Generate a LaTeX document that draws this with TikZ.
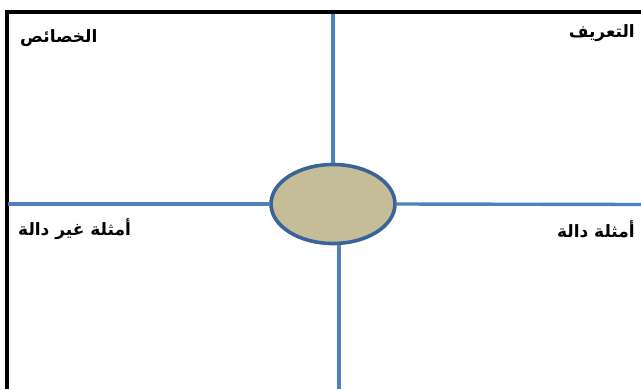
\documentclass[tikz,border=0pt]{standalone}
\usepackage{fontspec}
\usetikzlibrary{shapes.geometric}
\newfontfamily\arabicfont[Script=Arabic]{DejaVu Sans}
\TeXXeTstate=1
\definecolor{lineblue}{HTML}{4F81BD}
\definecolor{ringblue}{HTML}{3A6399}
\definecolor{khaki}{HTML}{C4BD97}
\begin{document}
\begin{tikzpicture}[x=1pt,y=-1pt,
  quad/.style={draw=lineblue,line width=3.4pt},
  frame/.style={draw=black,line width=4pt},
  lbl/.style={inner sep=0pt,font=\arabicfont\bfseries\fontsize{17}{19}\selectfont}]
\useasboundingbox (0,0) rectangle (641,389);
\coordinate (tl) at (6.5,12);
\coordinate (tr) at (641,12);
\coordinate (bl) at (6.5,389);
\draw[frame] (tr) -- (tl) -- (bl);
\node[draw=ringblue,fill=khaki,line width=3.6pt,ellipse,minimum width=124pt,minimum height=79pt,inner sep=0pt] (c) at (333,204) {};
\coordinate (top) at (333,13.5);
\coordinate (bot) at (339,389);
\coordinate (lft) at (8,204);
\coordinate (rgt) at (641,204.5);
\draw[quad] (top) -- (c.north);
\draw[quad] (c.south -| bot) -- (bot);
\draw[quad] (lft) -- (c.west);
\draw[quad] (c.east) -- (rgt);
\node[lbl,anchor=west] (khas) at (20,38) {\beginR الخصائص\endR};
\node[lbl,anchor=east] (tarif) at (635,33) {\beginR التعريف\endR};
\node[lbl,anchor=west] (ghayr) at (18,229) {\beginR أمثلة غير دالة\endR};
\node[lbl,anchor=east] (dalla) at (635,229) {\beginR أمثلة دالة\endR};
\end{tikzpicture}
\end{document}
